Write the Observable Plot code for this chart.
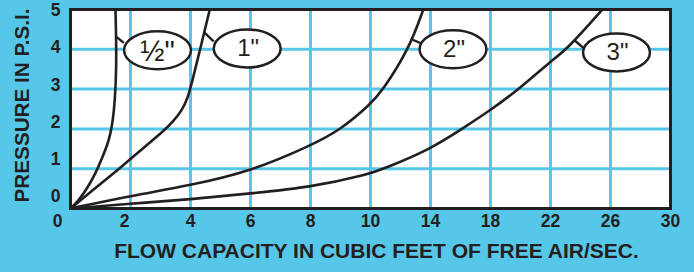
<!DOCTYPE html>
<html>
<head>
<meta charset="utf-8">
<script src="https://cdn.jsdelivr.net/npm/d3@7"></script>
<script src="https://cdn.jsdelivr.net/npm/@observablehq/plot@0.6"></script>
<style>
  html, body { margin: 0; padding: 0; background: #57c7e9; }
  #chart { width: 694px; height: 272px; overflow: hidden; }
</style>
</head>
<body>
<div id="chart"></div>
<script>
// ---- data ----
const xTickLabels = [0, 2, 4, 6, 8, 10, 14, 18, 22, 26, 30];
const xGridValues = [2, 4, 6, 8, 10, 14, 18, 22, 26];
const yTickLabels = [0, 1, 2, 3, 4, 5];
const yGridValues = [1, 2, 3, 4];

const pipeNames = ['½"', '1"', '2"', '3"'];

const halfFlow = [0, 0.27, 0.57, 0.83, 1.06, 1.24, 1.33, 1.41, 1.48, 1.53, 1.52, 1.5];
const halfPsi  = [0, 0.2, 0.525, 0.875, 1.275, 1.625, 1.875, 2.2, 2.7, 3.525, 4.375, 4.98];

const oneFlow = [0, 1.0, 1.67, 2.44, 3.11, 3.44, 3.7, 3.9, 4.06, 4.33, 4.64];
const onePsi  = [0, 0.62, 1.03, 1.53, 1.95, 2.2, 2.45, 2.75, 3.2, 4.03, 4.99];

const twoFlow = [0, 2, 4, 6, 8, 9, 10, 10.78, 12.56, 13.51];
const twoPsi  = [0, 0.32, 0.58, 0.93, 1.575, 1.975, 2.62, 2.95, 4.0, 4.99];

const threeFlow = [0, 2, 4, 6, 8, 10, 10.89, 14, 16.1, 18, 19.9, 22, 23.11, 25.44];
const threePsi  = [0, 0.12, 0.23, 0.38, 0.53, 0.87, 1.0, 1.49, 2.0, 2.47, 3.0, 3.7, 4.0, 4.99];

const labelFlow = [2.9, 5.89, 15.5, 26.4];
const labelPsi  = [3.975, 4.02, 4.0, 3.92];

const leaderFlowFrom = [1.5, 4.45, 12.8, 23.55];
const leaderPsiFrom  = [4.33, 4.43, 4.24, 4.24];
const leaderFlowTo   = [1.78, 4.77, 13.51, 24.22];
const leaderPsiTo    = [4.16, 4.2, 4.13, 4.03];

// ---- build tables ----
const series = [[halfFlow, halfPsi], [oneFlow, onePsi], [twoFlow, twoPsi], [threeFlow, threePsi]];
const curveRows = series.flatMap(([fx, py], i) => fx.map((f, j) => ({pipe: pipeNames[i], flow: f, psi: py[j]})));
const labelRows = pipeNames.map((p, i) => ({pipe: p, flow: labelFlow[i], psi: labelPsi[i]}));
const leaderRows = pipeNames.map((p, i) => ({x1: leaderFlowFrom[i], y1: leaderPsiFrom[i], x2: leaderFlowTo[i], y2: leaderPsiTo[i]}));

const BLUE = "#57c7e9";
const INK = "#231f20";
const FONT = "'Liberation Sans', Arial, Helvetica, sans-serif";

// ellipse symbol for the pipe-size callouts
const ellipse = {
  draw(context, size) {
    const ry = Math.sqrt(size / Math.PI);
    const rx = ry * 1.76;
    const k = 0.5523;
    context.moveTo(rx, 0);
    context.bezierCurveTo(rx, k * ry, k * rx, ry, 0, ry);
    context.bezierCurveTo(-k * rx, ry, -rx, k * ry, -rx, 0);
    context.bezierCurveTo(-rx, -k * ry, -k * rx, -ry, 0, -ry);
    context.bezierCurveTo(k * rx, -ry, rx, -k * ry, rx, 0);
    context.closePath();
  }
};

const chart = Plot.plot({
  width: 694,
  height: 272,
  marginLeft: 70,
  marginRight: 24,
  marginTop: 9,
  marginBottom: 64,
  style: {background: BLUE, fontFamily: FONT, color: INK, overflow: "visible"},
  x: {type: "linear", domain: [0, 10, 30], range: [70, 370, 670], axis: null},
  y: {type: "linear", domain: [0, 5], axis: null},
  marks: [
    Plot.frame({fill: "white", stroke: null}),
    Plot.ruleX(xGridValues, {stroke: BLUE, strokeWidth: 3}),
    Plot.ruleY(yGridValues, {stroke: BLUE, strokeWidth: 3}),
    Plot.line(curveRows, {x: "flow", y: "psi", z: "pipe", stroke: INK, strokeWidth: 2.6, curve: "basis"}),
    Plot.link(leaderRows, {x1: "x1", y1: "y1", x2: "x2", y2: "y2", stroke: INK, strokeWidth: 2.4}),
    Plot.dot(labelRows, {x: "flow", y: "psi", r: 19, symbol: ellipse, fill: "white", stroke: INK, strokeWidth: 2.5}),
    Plot.text(labelRows.slice(1), {x: "flow", y: "psi", text: "pipe", fontSize: 24, fill: INK, dx: 1}),
    Plot.text(labelRows.slice(0, 1), {x: "flow", y: "psi", text: "pipe", fontSize: 29, fill: INK, dx: 0, dy: 1}),
    Plot.frame({stroke: INK, strokeWidth: 3}),
    // x tick labels
    Plot.text(xTickLabels.filter(v => v > 2), {x: d => d, frameAnchor: "bottom", dy: 18, text: d => String(d), fontSize: 17.5, fontWeight: "bold", fill: INK}),
    Plot.text([xTickLabels[1]], {x: d => d, frameAnchor: "bottom", dy: 18, dx: -6, text: d => String(d), fontSize: 17.5, fontWeight: "bold", fill: INK}),
    Plot.text([xTickLabels[0]], {x: d => d, frameAnchor: "bottom", dy: 18, dx: -13, text: d => String(d), fontSize: 17.5, fontWeight: "bold", fill: INK}),
    // y tick labels (spaced as in the original artwork)
    Plot.text(yTickLabels, {y: d => d * 0.935 + 0.3, frameAnchor: "left", textAnchor: "middle", dx: -15, text: d => String(d), fontSize: 17.5, fontWeight: "bold", fill: INK}),
    // axis titles
    Plot.text(["FLOW CAPACITY IN CUBIC FEET OF FREE AIR/SEC."], {frameAnchor: "bottom", dy: 49, dx: 6, text: d => d, fontSize: 21, fontWeight: "bold", fill: INK}),
    Plot.text(["PRESSURE IN P.S.I."], {frameAnchor: "left", textAnchor: "middle", dx: -48, dy: -3.5, rotate: -90, text: d => d, fontSize: 20.7, fontWeight: "bold", fill: INK})
  ]
});
document.getElementById("chart").appendChild(chart);
</script>
</body>
</html>
